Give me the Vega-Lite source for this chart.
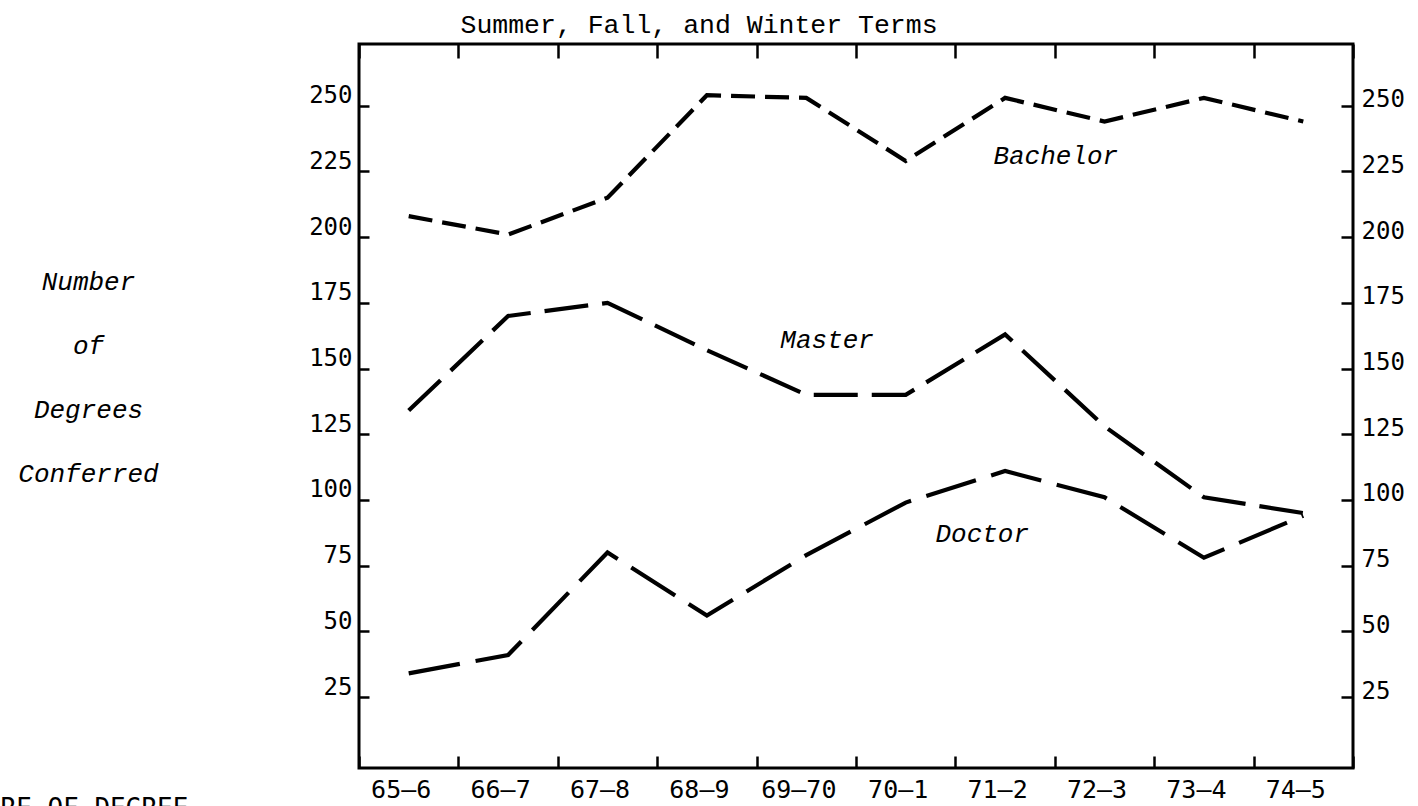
{
  "$schema": "https://vega.github.io/schema/vega-lite/v6.json",
  "width": 994,
  "height": 724,
  "autosize": {"type": "none"},
  "padding": {"left": 359, "top": 44, "right": 65, "bottom": 38},
  "background": "white",
  "config": {
    "view": {"stroke": "black", "strokeWidth": 3},
    "axis": {"domain": false, "grid": false, "tickColor": "black", "tickWidth": 2.5, "labelColor": "black", "labelFont": "DejaVu Sans Mono", "titleColor": "black", "titleFontWeight": "normal"}
  },
  "datasets": {
    "degrees": [
      {"year": "65–6", "degree": "Bachelor", "count": 208},
      {"year": "66–7", "degree": "Bachelor", "count": 201},
      {"year": "67–8", "degree": "Bachelor", "count": 215},
      {"year": "68–9", "degree": "Bachelor", "count": 254},
      {"year": "69–70", "degree": "Bachelor", "count": 253},
      {"year": "70–1", "degree": "Bachelor", "count": 229},
      {"year": "71–2", "degree": "Bachelor", "count": 253},
      {"year": "72–3", "degree": "Bachelor", "count": 244},
      {"year": "73–4", "degree": "Bachelor", "count": 253},
      {"year": "74–5", "degree": "Bachelor", "count": 244},
      {"year": "65–6", "degree": "Master", "count": 134},
      {"year": "66–7", "degree": "Master", "count": 170},
      {"year": "67–8", "degree": "Master", "count": 175},
      {"year": "68–9", "degree": "Master", "count": 157},
      {"year": "69–70", "degree": "Master", "count": 140},
      {"year": "70–1", "degree": "Master", "count": 140},
      {"year": "71–2", "degree": "Master", "count": 163},
      {"year": "72–3", "degree": "Master", "count": 128},
      {"year": "73–4", "degree": "Master", "count": 101},
      {"year": "74–5", "degree": "Master", "count": 95},
      {"year": "65–6", "degree": "Doctor", "count": 34},
      {"year": "66–7", "degree": "Doctor", "count": 41},
      {"year": "67–8", "degree": "Doctor", "count": 80},
      {"year": "68–9", "degree": "Doctor", "count": 56},
      {"year": "69–70", "degree": "Doctor", "count": 79},
      {"year": "70–1", "degree": "Doctor", "count": 99},
      {"year": "71–2", "degree": "Doctor", "count": 111},
      {"year": "72–3", "degree": "Doctor", "count": 101},
      {"year": "73–4", "degree": "Doctor", "count": 78},
      {"year": "74–5", "degree": "Doctor", "count": 94}
    ],
    "labels": [
      {"label": "Bachelor", "pos": 7.01, "value": 228},
      {"label": "Master", "pos": 4.71, "value": 158},
      {"label": "Doctor", "pos": 6.27, "value": 84}
    ]
  },
  "resolve": {"scale": {"x": "independent"}, "axis": {"x": "independent", "y": "independent"}},
  "layer": [
    {
      "data": {"name": "degrees"},
      "mark": {"type": "line", "strokeWidth": 4.2, "strokeCap": "butt", "strokeJoin": "miter", "color": "black"},
      "encoding": {
        "x": {
          "field": "year", "type": "ordinal", "bandPosition": 0.5,
          "scale": {"type": "band", "paddingInner": 0, "paddingOuter": 0, "domain": ["65–6", "66–7", "67–8", "68–9", "69–70", "70–1", "71–2", "72–3", "73–4", "74–5"]},
          "axis": {
            "orient": "bottom", "tickBand": "extent", "tickSize": -12, "labelAngle": 0,
            "labelFontSize": 25, "labelPadding": 21, "labelOffset": -8, "labelBaseline": "top",
            "title": "RE OF DEGREE", "titleFont": "DejaVu Sans Mono", "titleFontSize": 26,
            "titleX": -359, "titleY": 48, "titleAlign": "left", "titleBaseline": "alphabetic", "titleAngle": 0
          }
        },
        "y": {
          "field": "count", "type": "quantitative",
          "scale": {"domain": [-2, 273.5], "nice": false, "zero": false},
          "axis": {
            "orient": "left", "values": [25, 50, 75, 100, 125, 150, 175, 200, 225, 250],
            "tickSize": -10, "labelFontSize": 24, "labelPadding": 17, "labelBaseline": "alphabetic", "labelOffset": -3,
            "title": ["Number", "of", "Degrees", "Conferred"], "titleAngle": 0, "titleAlign": "center",
            "titleBaseline": "alphabetic", "titleFont": "Liberation Mono", "titleFontStyle": "italic",
            "titleFontSize": 26, "titleLineHeight": 64, "titleX": -271, "titleY": 245
          }
        },
        "detail": {"field": "degree"},
        "strokeDash": {
          "field": "degree", "type": "nominal",
          "scale": {"domain": ["Bachelor", "Master", "Doctor"], "range": [[24, 10], [44, 14], [52, 16]]},
          "legend": null
        }
      }
    },
    {
      "data": {"name": "degrees"},
      "mark": {"type": "line", "opacity": 0},
      "encoding": {
        "x": {
          "field": "year", "type": "ordinal",
          "scale": {"type": "band", "paddingInner": 0, "paddingOuter": 0, "domain": ["65–6", "66–7", "67–8", "68–9", "69–70", "70–1", "71–2", "72–3", "73–4", "74–5"]},
          "axis": {
            "orient": "top", "tickBand": "extent", "tickSize": -14, "labels": false,
            "title": "Summer, Fall, and Winter Terms", "titleFont": "Liberation Mono", "titleFontSize": 26.5,
            "titleX": 101, "titleY": -12, "titleAlign": "left", "titleBaseline": "alphabetic", "titleAngle": 0
          }
        },
        "y": {
          "field": "count", "type": "quantitative",
          "scale": {"domain": [-2, 273.5], "nice": false, "zero": false},
          "axis": {
            "orient": "right", "values": [25, 50, 75, 100, 125, 150, 175, 200, 225, 250],
            "tickSize": -12, "labelFontSize": 24, "labelPadding": 20, "labelAlign": "left",
            "labelBaseline": "middle", "labelOffset": -6, "title": null
          }
        },
        "detail": {"field": "degree"}
      }
    },
    {
      "data": {"name": "labels"},
      "mark": {"type": "text", "font": "Liberation Mono", "fontSize": 26, "fontStyle": "italic", "align": "center", "baseline": "alphabetic", "color": "black"},
      "encoding": {
        "x": {"field": "pos", "type": "quantitative", "scale": {"domain": [0, 10], "nice": false, "zero": false}, "axis": null},
        "y": {"field": "value", "type": "quantitative", "axis": null},
        "text": {"field": "label"}
      }
    }
  ]
}
